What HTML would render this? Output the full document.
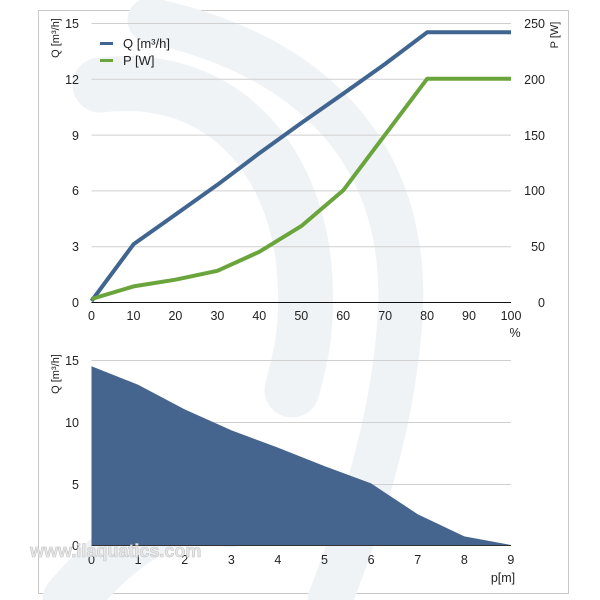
<!DOCTYPE html>
<html><head><meta charset="utf-8"><style>
html,body{margin:0;padding:0;background:#fff;}
svg{display:block;font-family:"Liberation Sans",sans-serif;}
</style></head><body>
<svg width="600" height="600" viewBox="0 0 600 600" xmlns="http://www.w3.org/2000/svg">
<rect x="0" y="0" width="600" height="600" fill="#fff"/>
<rect x="38.5" y="10.5" width="530" height="583" fill="#fff" stroke="#c8c8c8" stroke-width="1"/>
<!-- watermark arcs -->
<g fill="none" stroke="#f0f3f6" stroke-linecap="round">
<path d="M100,85 C230,70 300,170 305,280 C308,330 300,360 292,390" stroke-width="55"/>
<path d="M150,20 C330,60 410,170 400,320 C392,430 360,520 330,600" stroke-width="45"/>
<path d="M230,520 C180,500 120,540 70,600" stroke-width="55"/>
</g>
<!-- top grid -->
<g stroke="#cfcfcf" stroke-width="1">
<line x1="91.5" y1="23.5" x2="511" y2="23.5"/>
<line x1="91.5" y1="79.3" x2="511" y2="79.3"/>
<line x1="91.5" y1="135.1" x2="511" y2="135.1"/>
<line x1="91.5" y1="190.9" x2="511" y2="190.9"/>
<line x1="91.5" y1="246.7" x2="511" y2="246.7"/>
</g>
<line x1="91.5" y1="302.5" x2="511" y2="302.5" stroke="#111" stroke-width="1"/>
<g font-size="12.5" fill="#222" text-anchor="end">
<text x="79" y="28">15</text><text x="79" y="84">12</text><text x="79" y="140">9</text>
<text x="79" y="195">6</text><text x="79" y="251">3</text><text x="79" y="307">0</text>
</g>
<g font-size="12.5" fill="#222" text-anchor="end">
<text x="545" y="28">250</text><text x="545" y="84">200</text><text x="545" y="140">150</text>
<text x="545" y="195">100</text><text x="545" y="251">50</text><text x="545" y="307">0</text>
</g>
<g font-size="12.5" fill="#222" text-anchor="middle">
<text x="91.5" y="320">0</text><text x="133.5" y="320">10</text><text x="175.4" y="320">20</text>
<text x="217.4" y="320">30</text><text x="259.3" y="320">40</text><text x="301.3" y="320">50</text>
<text x="343.2" y="320">60</text><text x="385.2" y="320">70</text><text x="427.1" y="320">80</text>
<text x="469" y="320">90</text><text x="511" y="320">100</text>
<text x="515" y="337">%</text>
</g>
<text transform="translate(59,38) rotate(-90)" font-size="11" fill="#222" text-anchor="middle">Q [m³/h]</text>
<text transform="translate(558,35) rotate(-90)" font-size="11" fill="#222" text-anchor="middle">P [W]</text>
<!-- legend -->
<line x1="100" y1="43.5" x2="113" y2="43.5" stroke="#3f6590" stroke-width="3"/>
<text x="123" y="48" font-size="13" fill="#222">Q [m³/h]</text>
<line x1="100" y1="60.5" x2="113" y2="60.5" stroke="#6aa53c" stroke-width="3"/>
<text x="123" y="65" font-size="13" fill="#222">P [W]</text>
<polyline fill="none" stroke="#3f6590" stroke-width="4" stroke-linejoin="round" points="91.5,301 133.5,244.3 175.4,214.6 217.4,184.8 259.3,153.2 301.3,123 343.2,93.7 385.2,63.9 427.1,32.3 511,32.3"/>
<polyline fill="none" stroke="#6aa53c" stroke-width="4" stroke-linejoin="round" points="91.5,299 133.5,286.4 175.4,279.7 217.4,270.8 259.3,251.8 301.3,226.1 343.2,190.4 385.2,134.6 427.1,78.8 511,78.8"/>
<!-- bottom chart -->
<g stroke="#cfcfcf" stroke-width="1">
<line x1="91.5" y1="360.5" x2="511" y2="360.5"/>
<line x1="91.5" y1="422.5" x2="511" y2="422.5"/>
<line x1="91.5" y1="484.5" x2="511" y2="484.5"/>
</g>
<polygon fill="#45658f" points="91.5,545 91.5,366.2 138.1,384.7 184.7,409.4 231.3,430.3 277.9,447.6 324.5,466.1 371.1,483.4 417.7,514.2 464.3,536.4 510.9,545"/>
<line x1="91.5" y1="545.5" x2="511" y2="545.5" stroke="#333" stroke-width="1"/>
<g font-size="12.5" fill="#222" text-anchor="end">
<text x="79" y="365">15</text><text x="79" y="427">10</text><text x="79" y="489">5</text><text x="79" y="550">0</text>
</g>
<g font-size="12.5" fill="#222" text-anchor="middle">
<text x="91.5" y="564">0</text><text x="138.1" y="564">1</text><text x="184.7" y="564">2</text>
<text x="231.3" y="564">3</text><text x="277.9" y="564">4</text><text x="324.5" y="564">5</text>
<text x="371.1" y="564">6</text><text x="417.7" y="564">7</text><text x="464.3" y="564">8</text>
<text x="510.9" y="564">9</text>
<text x="503" y="582">p[m]</text>
</g>
<text transform="translate(59,374) rotate(-90)" font-size="11" fill="#222" text-anchor="middle">Q [m³/h]</text>
<text x="30" y="557" font-size="18" font-weight="bold" fill="#e8e8e8" stroke="#c4c4c4" stroke-width="0.6">www.ilaquatics.com</text>
</svg>
</body></html>
